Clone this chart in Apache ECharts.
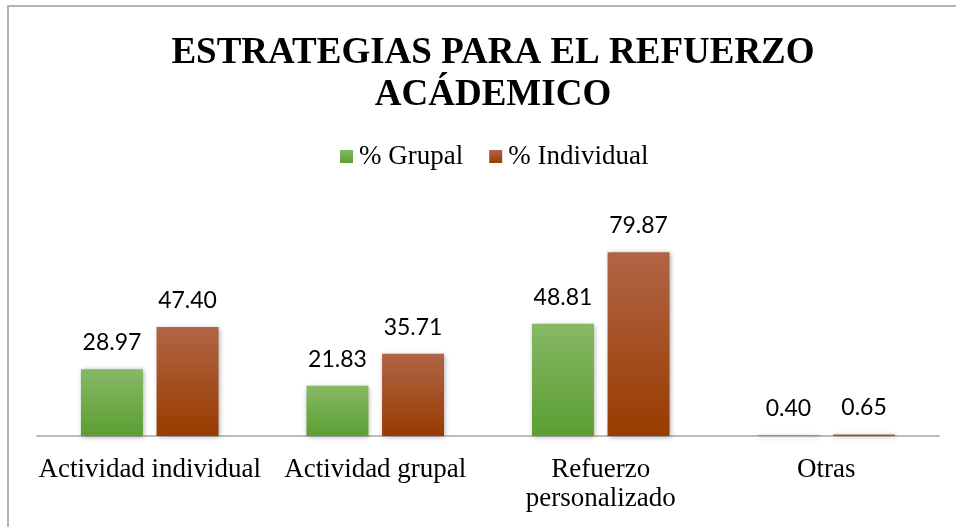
<!DOCTYPE html>
<html>
<head>
<meta charset="utf-8">
<script src="https://cdn.jsdelivr.net/npm/echarts@6/dist/echarts.min.js"></script>
<style>
  html, body { margin: 0; padding: 0; background: #fff; }
  #main { width: 956px; height: 527px; }
  #frame { position: absolute; left: 7px; top: 5px; right: 0; bottom: 0;
           border-left: 2px solid #b3b3b3; border-top: 2px solid #b3b3b3; pointer-events: none; }
</style>
</head>
<body>
<div id="main"></div>
<div id="frame"></div>
<script>
var categories = ["Actividad individual", "Actividad grupal", "Refuerzo\npersonalizado", "Otras"];
var grupal = [28.97, 21.83, 48.81, 0.40];
var individual = [47.40, 35.71, 79.87, 0.65];
var seriesNames = ["% Grupal", "% Individual"];

function grad(top, bottom) {
    return new echarts.graphic.LinearGradient(0, 0, 0, 1, [
        { offset: 0, color: top },
        { offset: 1, color: bottom }
    ]);
}

var serif = "Liberation Serif";
var labelStyle = {
    show: true,
    position: "top",
    distance: 15,
    fontFamily: "Lato",
    fontSize: 23,
    color: "#000",
    formatter: function (p) { return p.value.toFixed(2); }
};

var option = {
    animation: false,
    backgroundColor: "#fff",
    title: {
        text: "ESTRATEGIAS PARA EL REFUERZO\nACÁDEMICO",
        left: 488,
        textAlign: "center",
        top: 27,
        textStyle: {
            fontFamily: serif,
            fontWeight: "bold",
            fontSize: 37,
            lineHeight: 42,
            color: "#000"
        }
    },
    legend: {
        data: seriesNames,
        top: 138,
        left: 335,
        itemWidth: 13,
        itemHeight: 13,
        itemGap: 26,
        icon: "rect",
        textStyle: { fontFamily: serif, fontSize: 27, color: "#000", padding: [0, 0, 0, 1] }
    },
    grid: { left: 37, right: 17, top: 206, bottom: 91 },
    xAxis: {
        type: "category",
        data: categories,
        axisLine: { lineStyle: { color: "#a6a6a6", width: 1.5 } },
        axisTick: { show: false },
        axisLabel: {
            fontFamily: serif,
            fontSize: 27,
            lineHeight: 29,
            color: "#000",
            margin: 19,
            interval: 0
        }
    },
    yAxis: {
        type: "value",
        min: 0,
        max: 100,
        show: false,
        splitLine: { show: false }
    },
    series: [
        {
            name: seriesNames[0],
            type: "bar",
            data: grupal,
            barGap: "22%",
            barCategoryGap: "39%",
            itemStyle: {
                color: grad("#86b965", "#5c9e33"),
                shadowColor: "rgba(0,0,0,0.35)",
                shadowBlur: 5,
                shadowOffsetX: 1,
                shadowOffsetY: 1
            },
            label: labelStyle
        },
        {
            name: seriesNames[1],
            type: "bar",
            data: individual,
            itemStyle: {
                color: grad("#b06546", "#993b00"),
                shadowColor: "rgba(0,0,0,0.35)",
                shadowBlur: 5,
                shadowOffsetX: 1,
                shadowOffsetY: 1
            },
            label: labelStyle
        }
    ]
};

echarts.init(document.getElementById("main")).setOption(option);
</script>
</body>
</html>
